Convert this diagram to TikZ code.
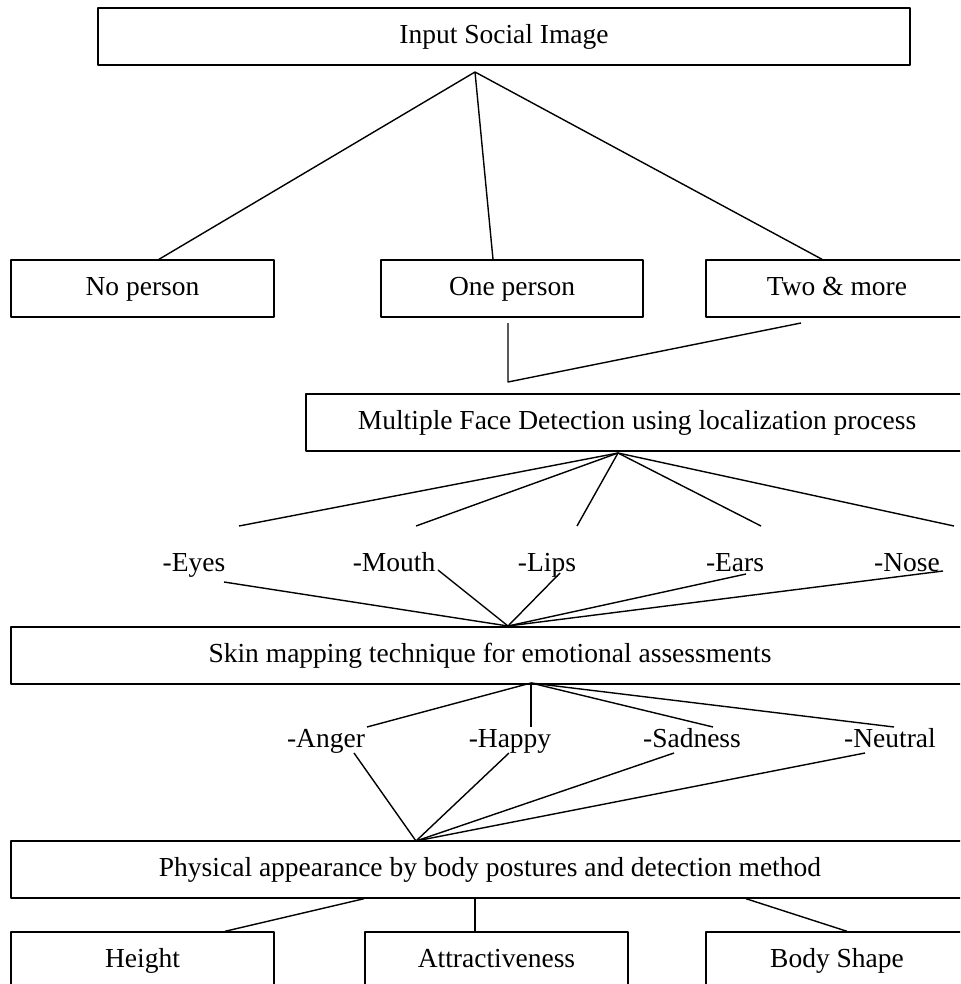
\documentclass[tikz,border=0pt]{standalone}
\usepackage{fontspec}
\setmainfont{Liberation Serif}
\begin{document}
\begin{tikzpicture}[x=0.5pt, y=-0.5pt, line width=0.7pt, line join=round, font=\fontsize{13.75}{16}\selectfont,
		blk/.style={draw, inner sep=0pt, minimum height=28.5pt, text height=9pt, text depth=2pt},
		lbl/.style={inner sep=0pt, anchor=base}]
				\useasboundingbox (0,0) rectangle (960,984);
				\clip (0,0) rectangle (960,984);
				% boxes
				\node[blk, minimum width=406pt] (inp) at (504,36.5) {Input Social Image};
				\node[blk, minimum width=131.5pt] (nop) at (142.5,288.5) {No person};
				\node[blk, minimum width=131pt] (one) at (512,288.5) {One person};
				\node[blk, minimum width=131pt] (two) at (837,288.5) {Two \& more};
				\node[blk, minimum width=331pt] (mfd) at (637,422.5) {Multiple Face Detection using localization process};
				\node[blk, minimum width=479pt] (skin) at (490,655.5) {Skin mapping technique for emotional assessments};
				\node[blk, minimum width=479pt] (phys) at (490,869.5) {Physical appearance by body postures and detection method};
				\node[blk, minimum width=131.5pt] (hgt) at (142.5,960.5) {Height};
				\node[blk, minimum width=131.5pt] (attr) at (496.5,960.5) {Attractiveness};
				\node[blk, minimum width=131pt] (body) at (837,960.5) {Body Shape};
				% meeting points
				\coordinate (a1) at (475,72);
				\coordinate (j) at (508,382);
				\coordinate (a2) at (618,453);
				\coordinate (a3) at (508,626);
				\coordinate (a4) at (531,683);
				\coordinate (a5) at (416,841);
				\foreach \n/\x in {nop/159,one/493,two/822}\draw (a1)--(\x,0 |- \n.north);
				\coordinate (one-b) at (508,323);\coordinate (two-b) at (801,323);
				\draw (one-b)--(j)--(two-b);
				% face parts
				\foreach \n/\t/\x/\u/\bx/\by in {eyes/-Eyes/194/239/224/582, mouth/-Mouth/394/416/438/570, lips/-Lips/547/577/560/573, ears/-Ears/735/761/746/574, nose/-Nose/907/954/943/571}{
					\node[lbl] (\n) at (\x,571) {\t};
					\coordinate (\n-t) at (\u,526);\coordinate (\n-b) at (\bx,\by);
					\draw (a2)--(\n-t);\draw (\n-b)--(a3);
				}
				% emotions
				\foreach \n/\t/\x/\u/\bx in {anger/-Anger/326/367/354, happy/-Happy/510/531/509, sad/-Sadness/692/713/674, neutral/-Neutral/890/894/865}{
					\node[lbl] (\n) at (\x,747) {\t};
					\coordinate (\n-t) at (\u,727);\coordinate (\n-b) at (\bx,753);
					\draw (a4)--(\n-t);\draw (\n-b)--(a5);
				}
				% body features
				\draw (364,0 |- phys.south)--(225,0 |- hgt.north);
				\draw (475,0 |- phys.south)--(475,0 |- attr.north);
				\draw (746,0 |- phys.south)--(847,0 |- body.north);
		\end{tikzpicture}
\end{document}
